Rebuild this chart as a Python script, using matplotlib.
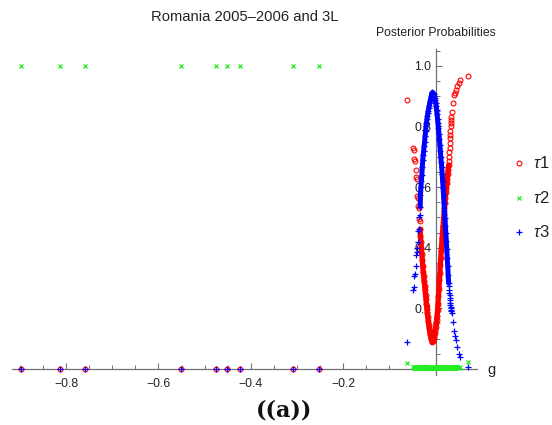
import numpy as np
import matplotlib
matplotlib.use('Agg')
import matplotlib.pyplot as plt
from matplotlib.lines import Line2D
from matplotlib.ticker import FixedLocator, FixedFormatter

plt.rcParams['font.family'] = ['Liberation Sans', 'DejaVu Sans']
plt.rcParams['mathtext.fontset'] = 'custom'
plt.rcParams['mathtext.rm'] = 'Liberation Sans'
plt.rcParams['mathtext.it'] = 'Liberation Sans:italic'

# ---------------- data ----------------
title = "Romania 2005\u20132006 and 3L"
y_title = "Posterior Probabilities"
x_title = "g"
caption = "((a))"
series_labels = [r"$\tau$1", r"$\tau$2", r"$\tau$3"]

x_ticks = [-0.8, -0.6, -0.4, -0.2]
x_tick_labels = ["\u22120.8", "\u22120.6", "\u22120.4", "\u22120.2"]
y_ticks = [0.2, 0.4, 0.6, 0.8, 1.0]
y_tick_labels = ["0.2", "0.4", "0.6", "0.8", "1.0"]

# far observations (assigned to component 2)
g_far = [-0.8983, -0.8126, -0.7584, -0.5513, -0.4756, -0.4510, -0.4242, -0.3088, -0.2515]
tau1_far = [0, 0, 0, 0, 0, 0, 0, 0, 0]
tau2_far = [1, 1, 1, 1, 1, 1, 1, 1, 1]
tau3_far = [0, 0, 0, 0, 0, 0, 0, 0, 0]

# observations near zero
g_near = [
    -0.0615, -0.0490, -0.0480, -0.0465, -0.0455, -0.0430, -0.0420, -0.0410,
    -0.0395, -0.0385, -0.0375, -0.0365, -0.0355, -0.0345, -0.0335,
    -0.033, -0.032, -0.031, -0.030, -0.029, -0.028, -0.027, -0.026, -0.025,
    -0.024, -0.023, -0.022, -0.021, -0.020, -0.019, -0.018, -0.017, -0.016,
    -0.015, -0.014, -0.013, -0.012, -0.011, -0.010, -0.009, -0.008, -0.007,
    -0.006, -0.005, -0.004, -0.003, -0.002, -0.001, 0.000, 0.001, 0.002,
    0.003, 0.004, 0.005, 0.006, 0.007, 0.008, 0.009, 0.010, 0.011, 0.012,
    0.013, 0.014, 0.015, 0.016, 0.017, 0.018, 0.019, 0.020, 0.021, 0.022,
    0.023, 0.024, 0.025, 0.026, 0.027, 0.028,
    0.0285, 0.0290, 0.0295, 0.0300, 0.0305, 0.0310, 0.0315, 0.0320, 0.0325,
    0.0330, 0.0335, 0.0340, 0.0346, 0.0368, 0.0395, 0.0415, 0.0433, 0.0468,
    0.0504, 0.0530, 0.0706,
]
tau1_near = [
    0.887, 0.730, 0.722, 0.692, 0.686, 0.656, 0.632, 0.626,
    0.570, 0.565, 0.537, 0.532, 0.495, 0.488, 0.460,
    0.440, 0.420, 0.400, 0.380, 0.360, 0.340, 0.320, 0.305, 0.290,
    0.275, 0.260, 0.245, 0.230, 0.213, 0.198, 0.184, 0.170, 0.157,
    0.145, 0.134, 0.124, 0.115, 0.107, 0.100, 0.095, 0.092, 0.090,
    0.091, 0.095, 0.101, 0.109, 0.118, 0.128, 0.140, 0.150, 0.162,
    0.176, 0.193, 0.215, 0.240, 0.265, 0.292, 0.318, 0.343, 0.367, 0.390,
    0.412, 0.433, 0.453, 0.472, 0.492, 0.511, 0.530, 0.548, 0.565, 0.582,
    0.598, 0.613, 0.628, 0.643, 0.657, 0.672,
    0.686, 0.700, 0.715, 0.730, 0.745, 0.760, 0.772, 0.785, 0.800,
    0.810, 0.820, 0.830, 0.848, 0.876, 0.903, 0.910, 0.920, 0.933,
    0.944, 0.953, 0.967,
]
tau2_near = [
    0.019, 0.006, 0.005, 0.004, 0.004, 0.004, 0.003, 0.004,
    0.003, 0.004, 0.003, 0.003, 0.004, 0.003, 0.004,
    0.003, 0.004, 0.002, 0.004, 0.003, 0.002, 0.004, 0.003, 0.002,
    0.003, 0.004, 0.002, 0.003, 0.002, 0.004, 0.003, 0.002, 0.003,
    0.002, 0.003, 0.002, 0.002, 0.003, 0.002, 0.002, 0.003, 0.002,
    0.002, 0.003, 0.002, 0.002, 0.003, 0.002, 0.002, 0.003, 0.002,
    0.003, 0.002, 0.003, 0.002, 0.003, 0.002, 0.003, 0.002, 0.003, 0.002,
    0.003, 0.004, 0.003, 0.002, 0.003, 0.004, 0.003, 0.002, 0.003, 0.004,
    0.003, 0.002, 0.003, 0.004, 0.003, 0.004,
    0.004, 0.003, 0.004, 0.003, 0.004, 0.003, 0.004, 0.003, 0.004,
    0.003, 0.004, 0.003, 0.004, 0.003, 0.004, 0.003, 0.004, 0.005,
    0.004, 0.006, 0.024,
]
tau3_near = [
    0.090, 0.262, 0.270, 0.305, 0.312, 0.340, 0.375, 0.385,
    0.398, 0.420, 0.455, 0.462, 0.500, 0.508, 0.535,
    0.575, 0.600, 0.620, 0.640, 0.665, 0.689, 0.705, 0.720, 0.735,
    0.750, 0.767, 0.784, 0.800, 0.812, 0.823, 0.834, 0.843, 0.852,
    0.860, 0.868, 0.876, 0.884, 0.891, 0.898, 0.904, 0.909, 0.912,
    0.911, 0.909, 0.905, 0.900, 0.894, 0.887, 0.878, 0.867, 0.854,
    0.840, 0.825, 0.810, 0.793, 0.776, 0.758, 0.739, 0.720, 0.700, 0.683,
    0.665, 0.643, 0.620, 0.597, 0.572, 0.547, 0.522, 0.497, 0.472, 0.447,
    0.421, 0.394, 0.367, 0.339, 0.310, 0.283,
    0.272, 0.262, 0.252, 0.243, 0.235, 0.227, 0.219, 0.212, 0.205,
    0.200, 0.195, 0.190, 0.184, 0.156, 0.126, 0.110, 0.094, 0.074,
    0.051, 0.040, 0.006,
]
assert len(g_near) == len(tau1_near) == len(tau2_near) == len(tau3_near)

# ---------------- styles ----------------
RED = '#ff0000'
GREEN = '#22ee22'
BLUE = '#0000ff'
AXIS = '#707070'
TXT = '#222222'

W, H = 552, 425
fig = plt.figure(figsize=(W / 100, H / 100), dpi=100)
ax = fig.add_axes([12 / W, 1 - 375 / H, (477 - 12) / W, (375 - 49) / H])
ax.set_xlim(-0.917, 0.0894)
ax.set_ylim(-0.0198, 1.055)

g = np.array(g_far + g_near)
t1 = np.array(tau1_far + tau1_near)
t2 = np.array(tau2_far + tau2_near)
t3 = np.array(tau3_far + tau3_near)

gn = np.array(g_near)
dense = (gn >= -0.0336) & (gn <= 0.0281)
band2 = (gn >= -0.05) & (gn <= 0.055)

# tau1
ax.plot(gn[dense], np.array(tau1_near)[dense], color=RED, lw=3.8,
        solid_capstyle='round', solid_joinstyle='round', zorder=3)
ax.plot(g, t1, ls='none', marker='o', ms=3.5, mfc='none', mec=RED, mew=0.8, zorder=3)
# tau2
ax.plot(gn[band2], np.array(tau2_near)[band2], color=GREEN, lw=3.9,
        solid_capstyle='butt', zorder=4)
ax.plot(g, t2, ls='none', marker='x', ms=3.4, mec=GREEN, mew=0.9, zorder=4)
# tau3
ax.plot(gn[dense], np.array(tau3_near)[dense], color=BLUE, lw=3.6,
        solid_capstyle='round', solid_joinstyle='round', zorder=5)
ax.plot(g, t3, ls='none', marker='+', ms=4.2, mec=BLUE, mew=0.9, zorder=5)

# axes through origin
for s in ['top', 'right']:
    ax.spines[s].set_visible(False)
ax.spines['left'].set_position(('data', 0))
ax.spines['bottom'].set_position(('data', 0))
for s in ['left', 'bottom']:
    ax.spines[s].set_color(AXIS)
    ax.spines[s].set_linewidth(0.9)
    ax.spines[s].set_zorder(2)
ax.set_axisbelow(True)

ax.xaxis.set_major_locator(FixedLocator(x_ticks))
ax.xaxis.set_major_formatter(FixedFormatter(x_tick_labels))
ax.yaxis.set_major_locator(FixedLocator(y_ticks))
ax.yaxis.set_major_formatter(FixedFormatter(y_tick_labels))
ax.xaxis.set_minor_locator(FixedLocator([v / 100 for v in range(-90, 10, 5)]))
ax.yaxis.set_minor_locator(FixedLocator([v / 100 for v in range(5, 110, 5)]))
ax.tick_params(axis='both', which='both', direction='in', color=AXIS,
               labelcolor=TXT, labelsize=8.8)
ax.tick_params(axis='both', which='major', length=4.2, width=0.8)
ax.tick_params(axis='both', which='minor', length=2.6, width=0.7)
ax.tick_params(axis='x', which='major', pad=6.5)
ax.tick_params(axis='y', which='major', pad=3)

# texts
fig.text(244.7 / W, 1 - 16.7 / H, title, ha='center', va='center',
         fontsize=10.6, color=TXT)
fig.text(435.8 / W, 1 - 32.7 / H, y_title, ha='center', va='center',
         fontsize=8.8, color=TXT)
fig.text(491 / W, 1 - 370 / H, x_title, ha='center', va='center',
         fontsize=10.5, color=TXT)
fig.text(284 / W, 1 - 410 / H, caption, ha='center', va='center',
         fontsize=16, fontweight='bold', family=['DejaVu Serif'], color='#111111')

# legend
leg = [(163.3, 'o', RED, dict(mfc='none', mec=RED, mew=0.8, ms=3.5)),
       (198.3, 'x', GREEN, dict(mec=GREEN, mew=0.9, ms=3.4)),
       (231.7, '+', BLUE, dict(mec=BLUE, mew=0.9, ms=4.2))]
for (yp, mk, col, kw), lab in zip(leg, series_labels):
    fig.add_artist(Line2D([519 / W], [1 - yp / H], transform=fig.transFigure,
                          marker=mk, ls='none', **kw))
    fig.text(533 / W, 1 - yp / H, lab, ha='left', va='center', fontsize=12,
             color=TXT)

fig.savefig('out.png', dpi=100)
